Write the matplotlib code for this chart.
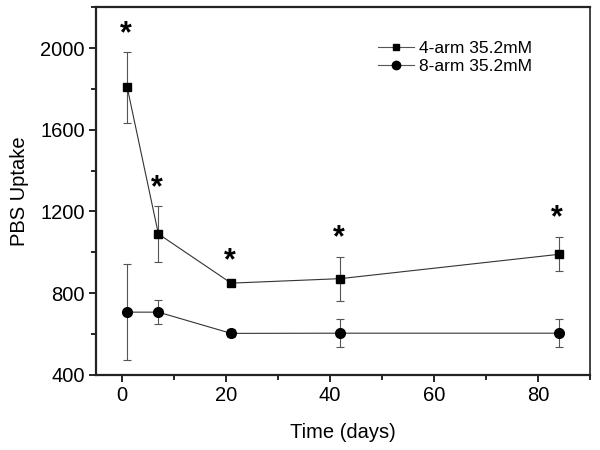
import numpy as np
from matplotlib import pyplot as plt
from matplotlib.ticker import MultipleLocator
from matplotlib.lines import Line2D

plt.rcParams['font.family'] = ['Liberation Sans', 'DejaVu Sans']

# Data
days = [1, 7, 21, 42, 84]
arm4_mean = [1808, 1090, 849, 871, 990]
arm4_err = [175, 138, 8, 107, 84]
arm8_mean = [707, 707, 603, 604, 604]
arm8_err = [235, 58, 20, 68, 68]
star_y = [2068, 1315, 958, 1070, 1168]
labels = ['4-arm 35.2mM', '8-arm 35.2mM']

fig = plt.figure(figsize=(6, 4.5), dpi=100)
ax = fig.add_axes([0.16, 0.167, 0.823, 0.817])

ax.errorbar(days, arm4_mean, yerr=arm4_err, fmt='-', color='#333333', lw=0.8,
            ecolor='#555555', elinewidth=0.8, capsize=3, capthick=0.8,
            marker='s', ms=6, mfc='black', mec='black')
ax.errorbar(days, arm8_mean, yerr=arm8_err, fmt='-', color='#333333', lw=0.8,
            ecolor='#555555', elinewidth=0.8, capsize=3, capthick=0.8,
            marker='o', ms=7, mfc='black', mec='black')

for x, y in zip(days, star_y):
    ax.text(x - 0.3, y, '*', ha='center', va='center', fontsize=22, fontweight='bold')

ax.set_xlim(-5, 90)
ax.set_ylim(400, 2200)
ax.xaxis.set_major_locator(MultipleLocator(20))
ax.xaxis.set_minor_locator(MultipleLocator(10))
ax.yaxis.set_major_locator(MultipleLocator(400))
ax.yaxis.set_minor_locator(MultipleLocator(200))
ax.tick_params(which='major', direction='out', length=5, width=1.2, labelsize=14.5, pad=3)
ax.tick_params(which='minor', direction='out', length=3.5, width=1.2)
for s in ax.spines.values():
    s.set_linewidth(1.6)
    s.set_color('#222222')
ax.spines['right'].set_linewidth(1.2)

ax.set_xlabel('Time (days)', fontsize=14.5, labelpad=13)
ax.set_ylabel('PBS Uptake', fontsize=14.5, labelpad=8)

handles = [Line2D([], [], color='#555555', lw=0.8, marker='s', ms=5, mfc='black', mec='black'),
           Line2D([], [], color='#555555', lw=0.8, marker='o', ms=6, mfc='black', mec='black')]
ax.legend(handles, labels, loc='upper right', bbox_to_anchor=(0.915, 0.95), frameon=False,
          fontsize=12.5, handlelength=2.1, handletextpad=0.3, labelspacing=0.15)

fig.savefig('out.png', dpi=100)
